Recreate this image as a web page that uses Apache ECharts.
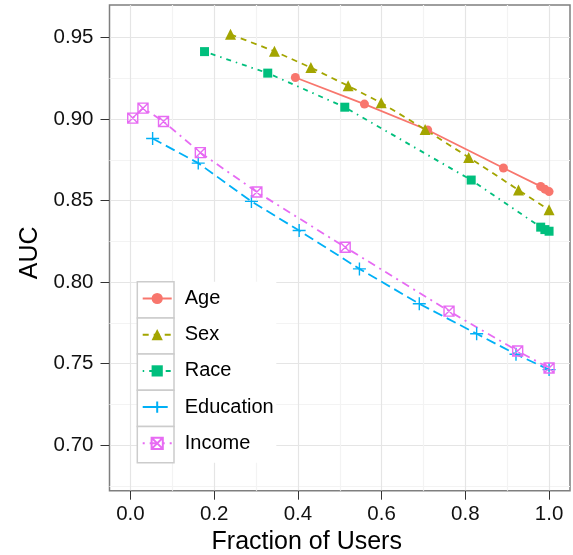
<!DOCTYPE html>
<html>
<head>
<meta charset="utf-8">
<script src="https://cdn.jsdelivr.net/npm/echarts@6/dist/echarts.min.js"></script>
<style>
html, body { margin: 0; padding: 0; background: #fff; }
#main { width: 573px; height: 555px; }
</style>
</head>
<body>
<div id="main"></div>
<script>
// data
const groups = ['Age', 'Sex', 'Race', 'Education', 'Income'];

const ageX = [0.394, 0.559, 0.710, 0.891, 0.980, 0.990, 1.000];
const ageY = [0.9255, 0.9092, 0.8933, 0.8700, 0.8587, 0.8570, 0.8555];

const sexX = [0.239, 0.344, 0.431, 0.520, 0.599, 0.704, 0.808, 0.927, 1.000];
const sexY = [0.9520, 0.9416, 0.9316, 0.9204, 0.9100, 0.8936, 0.8765, 0.8565, 0.8443];

const raceX = [0.177, 0.328, 0.512, 0.814, 0.980, 0.990, 1.000];
const raceY = [0.9414, 0.9282, 0.9073, 0.8626, 0.8337, 0.8322, 0.8312];

const eduX = [0.053, 0.162, 0.289, 0.403, 0.547, 0.690, 0.827, 0.921, 1.000];
const eduY = [0.8881, 0.8730, 0.8495, 0.8316, 0.8081, 0.7867, 0.7683, 0.7557, 0.7463];

const incX = [0.0055, 0.030, 0.079, 0.167, 0.302, 0.513, 0.761, 0.925, 1.000];
const incY = [0.9006, 0.9067, 0.8985, 0.8794, 0.8553, 0.8214, 0.7822, 0.7577, 0.7473];

const xMajorTicks = [0, 0.2, 0.4, 0.6, 0.8, 1.0];
const xMinorTicks = [0.1, 0.3, 0.5, 0.7, 0.9];
const yMajorTicks = [0.70, 0.75, 0.80, 0.85, 0.90, 0.95];
const yMinorTicks = [0.675, 0.725, 0.775, 0.825, 0.875, 0.925];

const font = 'Liberation Sans';

const seriesData = {
    Age: [ageX, ageY],
    Sex: [sexX, sexY],
    Race: [raceX, raceY],
    Education: [eduX, eduY],
    Income: [incX, incY]
};

const looks = {
    Age: { color: '#F8766D', symbol: 'circle', size: 9, dash: 'solid', hollow: false },
    Sex: { color: '#A3A500', symbol: 'triangle', size: 11, dash: [6, 5], hollow: false },
    Race: { color: '#00BF7D', symbol: 'rect', size: 9, dash: [1.5, 5, 5, 5], hollow: false },
    Education: { color: '#00B0F6', symbol: 'path://M0,6 L12,6 M6,0 L6,12', size: 13, dash: [10, 5], hollow: true },
    Income: { color: '#E76BF3', symbol: 'path://M0,0 L10,0 L10,10 L0,10 Z M0,0 L10,10 M10,0 L0,10', size: 10, dash: [2, 5, 8, 5], hollow: true }
};

function pairs(xs, ys) {
    return xs.map((x, i) => [x, ys[i]]);
}

const myChart = echarts.init(document.getElementById('main'), null, { renderer: 'canvas' });

const legendTop = 281.7;
const keyH = 36.2;

const option = {
    animation: false,
    backgroundColor: '#fff',
    grid: {
        left: 109.5,
        right: 3,
        top: 5,
        bottom: 64.3,
        outerBoundsMode: 'none',
        show: true,
        backgroundColor: '#fff',
        borderColor: '#7F7F7F',
        borderWidth: 1.5
    },
    legend: {
        orient: 'vertical',
        left: 141.7,
        top: 288.5,
        padding: 0,
        itemWidth: 29,
        itemHeight: 14,
        itemGap: 16.2,
        selectedMode: false,
        data: groups,
        textStyle: { fontSize: 20, lineHeight: 20, color: '#000', fontFamily: font, padding: [0, 0, 0, 8] },
        z: 5
    },
    graphic: [
        { type: 'rect', z: 3, shape: { x: 137.3, y: legendTop, width: 139, height: keyH * 5 }, style: { fill: '#fff' } }
    ].concat(groups.map((g, i) => ({
        type: 'rect', z: 3,
        shape: { x: 137.3, y: legendTop + i * keyH, width: 36.7, height: keyH },
        style: { fill: '#fff', stroke: '#CCCCCC', lineWidth: 1.5 }
    }))),
    xAxis: [
        {
            type: 'value', min: -0.05, max: 1.05,
            name: 'Fraction of Users', nameLocation: 'middle', nameGap: 36,
            nameTextStyle: { fontSize: 25, color: '#000', fontFamily: font, padding: [0, 66, 0, 0] },
            axisLine: { show: false, onZero: false },
            axisTick: { show: true, customValues: xMajorTicks, length: 9, lineStyle: { color: '#333', width: 1 } },
            axisLabel: { customValues: xMajorTicks, fontSize: 20.5, color: '#111', fontFamily: font, margin: 13.5,
                formatter: v => v.toFixed(1) },
            splitLine: { show: true, lineStyle: { color: '#E5E5E5', width: 1.2 } }
        },
        {
            type: 'value', min: -0.05, max: 1.05, position: 'bottom',
            axisLine: { show: false, onZero: false },
            axisTick: { show: false, customValues: xMinorTicks },
            axisLabel: { show: false, customValues: xMinorTicks },
            splitLine: { show: true, lineStyle: { color: '#F3F3F3', width: 1.2 } }
        }
    ],
    yAxis: [
        {
            type: 'value', min: 0.672, max: 0.970,
            name: 'AUC', nameLocation: 'middle', nameGap: 66,
            nameTextStyle: { fontSize: 25, color: '#000', fontFamily: font, padding: [0, 10, 0, 0] },
            axisLine: { show: false, onZero: false },
            axisTick: { show: true, customValues: yMajorTicks, length: 9, lineStyle: { color: '#333', width: 1 } },
            axisLabel: { customValues: yMajorTicks, fontSize: 20.5, color: '#111', fontFamily: font, margin: 16,
                formatter: v => v.toFixed(2) },
            splitLine: { show: true, lineStyle: { color: '#E5E5E5', width: 1.2 } }
        },
        {
            type: 'value', min: 0.672, max: 0.970, position: 'left',
            axisLine: { show: false, onZero: false },
            axisTick: { show: false, customValues: yMinorTicks },
            axisLabel: { show: false, customValues: yMinorTicks },
            splitLine: { show: true, lineStyle: { color: '#F3F3F3', width: 1.2 } }
        }
    ],
    series: groups.map(name => {
        const l = looks[name];
        return {
            name: name,
            type: 'line',
            xAxisIndex: 0,
            yAxisIndex: 0,
            data: pairs(seriesData[name][0], seriesData[name][1]),
            symbol: l.symbol,
            symbolSize: l.size,
            showSymbol: true,
            clip: false,
            lineStyle: { color: l.color, width: 1.8, type: l.dash },
            itemStyle: l.hollow
                ? { color: 'rgba(255,255,255,0)', borderColor: l.color, borderWidth: 1.4 }
                : { color: l.color, borderWidth: 0 },
            emphasis: { disabled: true },
            z: 2
        };
    })
};

myChart.setOption(option);
</script>
</body>
</html>
